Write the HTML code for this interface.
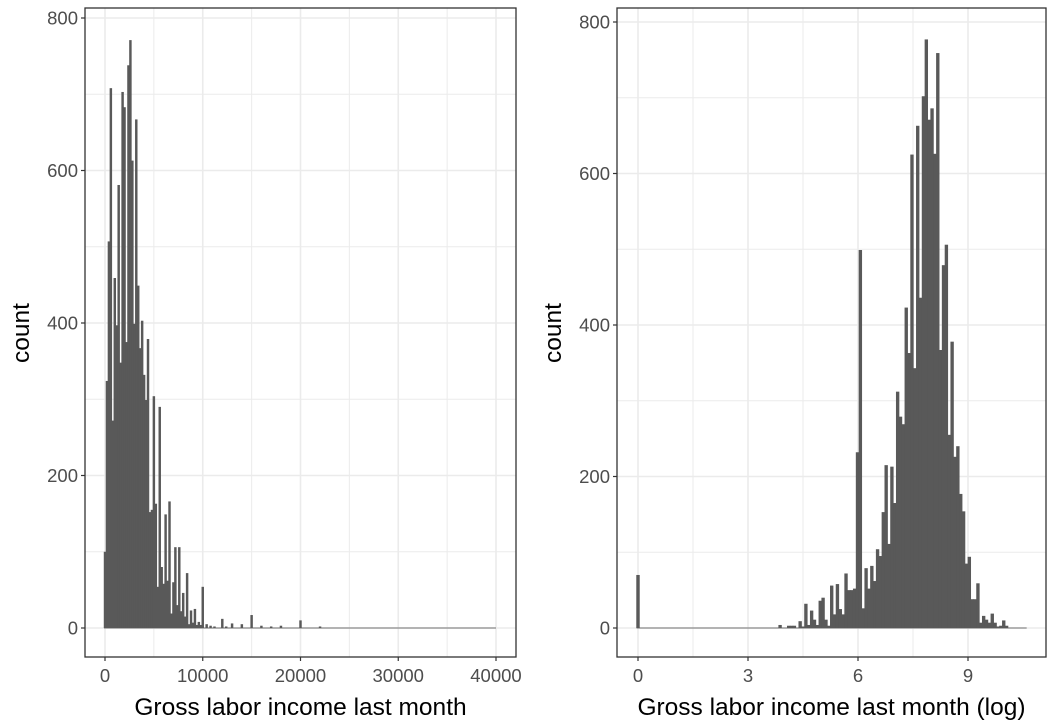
<!DOCTYPE html>
<html><head><meta charset="utf-8"><style>
html,body{margin:0;padding:0;background:#fff;}
svg{display:block;font-family:"Liberation Sans",Arial,sans-serif;}
</style></head><body>
<svg id="chart" width="1057" height="727" viewBox="0 0 1057 727" xmlns="http://www.w3.org/2000/svg"></svg>
<script>
// Left panel data: bins of width 200 centred at 0,200,...,10000
const leftBinWidth = 200;
const leftCounts = [100,324,507,708,272,459,397,581,348,703,683,375,738,771,613,399,667,449,367,403,332,299,379,152,155,304,163,54,290,80,58,149,62,166,19,60,106,30,106,22,46,15,72,5,23,7,25,4,8,4,54];
const leftTailX = [10400,10800,11200,12000,12400,13000,14000,15000,16000,17000,18000,20000,22000];
const leftTailCounts = [5,3,2,12,2,6,5,17,3,2,3,10,2];
const leftXTicks = [0,10000,20000,30000,40000];
const leftYTicks = [0,200,400,600,800];
// Right panel data (log income)
const rightBinStart = 3.836;
const rightBinWidth = 0.0782;
const rightCounts = [4,0,0,3,3,3,0,9,2,32,4,23,11,4,36,40,11,3,56,18,58,25,18,72,50,50,52,232,499,26,79,52,82,62,104,95,153,215,111,213,165,312,279,269,423,363,625,343,663,436,702,777,671,686,626,759,367,479,506,255,378,226,240,177,154,85,94,38,38,59,7,16,11,7,19,7,2,3,10,3];
const rightZeroCount = 70;
const rightXTicks = [0,3,6,9];
const rightYTicks = [0,200,400,600,800];

const NS="http://www.w3.org/2000/svg";
const svg=document.getElementById('chart');
function mk(tag,attrs,parent){const e=document.createElementNS(NS,tag);for(const k in attrs)e.setAttribute(k,attrs[k]);(parent||svg).appendChild(e);return e;}

function panel(cfg){
  const g=mk('g',{});
  
  
  const L=cfg.left,R=cfg.right,T=8,B=657;
  const xs=v=>cfg.x0px+(v-cfg.xmin)*cfg.xk;
  const ys=c=>628-c*cfg.yk;
  const minorX=[];for(let i=0;i<cfg.xt.length-1;i++)minorX.push((cfg.xt[i]+cfg.xt[i+1])/2);
  minorX.push(cfg.xt[0]-(cfg.xt[1]-cfg.xt[0])/2);
  minorX.forEach(v=>{const px=xs(v);if(px>L&&px<R){const l=mk('line',{x1:px,x2:px,y1:T,y2:B,stroke:'#ebebeb','stroke-width':1},g);}});
  for(let i=0;i<cfg.yt.length-1;i++){const py=ys((cfg.yt[i]+cfg.yt[i+1])/2);const l=mk('line',{x1:L,x2:R,y1:py,y2:py,stroke:'#ebebeb','stroke-width':1},g);}
  cfg.xt.forEach(v=>{const l=mk('line',{x1:xs(v),x2:xs(v),y1:T,y2:B,stroke:'#ebebeb','stroke-width':1.6},g);});
  cfg.yt.forEach(v=>{const l=mk('line',{x1:L,x2:R,y1:ys(v),y2:ys(v),stroke:'#ebebeb','stroke-width':1.6},g);});
  const bl=mk('line',{x1:xs(cfg.baseMin),x2:xs(cfg.baseMax),y1:628,y2:628,stroke:'#8c8c8c','stroke-width':1.2},g);
  
  cfg.bars.forEach(b=>{if(b[2]<=0)return;const x1=xs(b[0]),x2=xs(b[1]);const r=mk('rect',{x:x1-0.25,y:ys(b[2]),width:Math.max(x2-x1,0.8)+0.5,height:628-ys(b[2]),fill:'#595959'},g);});
  const fr=mk('rect',{x:L,y:T,width:R-L,height:B-T,fill:'none',stroke:'#333','stroke-width':1.3},g);
  
  cfg.xt.forEach(v=>{mk('line',{x1:xs(v),x2:xs(v),y1:B,y2:B+4,stroke:'#333','stroke-width':1.2},g);const t=mk('text',{x:xs(v),y:B+25,'text-anchor':'middle','font-size':18.5,fill:'#4d4d4d'},g);t.textContent=v;});
  cfg.yt.forEach(v=>{mk('line',{x1:L-4,x2:L,y1:ys(v),y2:ys(v),stroke:'#333','stroke-width':1.2},g);const t=mk('text',{x:L-7,y:ys(v)+6.5,'text-anchor':'end','font-size':18.5,fill:'#4d4d4d'},g);t.textContent=v;});
  const xt=mk('text',{x:(L+R)/2,y:715,'text-anchor':'middle','font-size':24.5,fill:'#000'},g);xt.textContent=cfg.xtitle;
  
  const yt=mk('text',{x:0,y:0,'text-anchor':'middle','font-size':24.5,fill:'#000',transform:`translate(${cfg.ytx},333) rotate(-90)`},g);yt.textContent='count';
  
}

const lb=[];
leftCounts.forEach((c,i)=>lb.push([i*leftBinWidth-leftBinWidth/2,i*leftBinWidth+leftBinWidth/2,c]));
leftTailX.forEach((x,i)=>lb.push([x-leftBinWidth/2,x+leftBinWidth/2,leftTailCounts[i]]));
panel({name:'left-panel',left:85,right:516,x0px:105,xmin:0,xk:391/40000,yk:610/800,xt:leftXTicks,yt:leftYTicks,bars:lb,baseMin:-100,baseMax:40000,xtitle:'Gross labor income last month',ytx:29});

const rb=[[-0.04,0.04,rightZeroCount]];
rightCounts.forEach((c,i)=>rb.push([rightBinStart+i*rightBinWidth,rightBinStart+(i+1)*rightBinWidth,c]));
panel({name:'right-panel',left:617,right:1046,x0px:638,xmin:0,xk:110/3,yk:606/800,xt:rightXTicks,yt:rightYTicks,bars:rb,baseMin:-0.04,baseMax:10.6,xtitle:'Gross labor income last month (log)',ytx:561});
</script>
</body></html>
